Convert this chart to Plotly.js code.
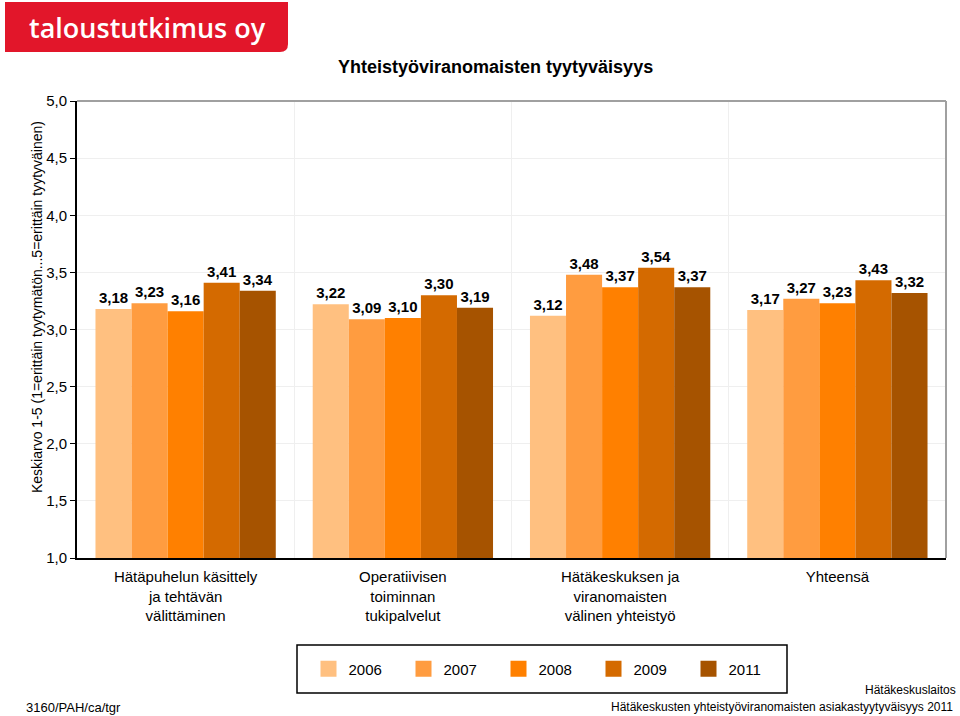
<!DOCTYPE html>
<html>
<head>
<meta charset="utf-8">
<script src="https://cdn.plot.ly/plotly-3.0.1.min.js"></script>
<style>
html,body{margin:0;padding:0;background:#fff;}
#chart{width:960px;height:716px;}
</style>
</head>
<body>
<div id="chart"></div>
<script>
const categories = [
  "Hätäpuhelun käsittely<br>ja tehtävän<br>välittäminen",
  "Operatiivisen<br>toiminnan<br>tukipalvelut",
  "Hätäkeskuksen ja<br>viranomaisten<br>välinen yhteistyö",
  "Yhteensä"
];
const years = ["2006", "2007", "2008", "2009", "2011"];
const v2006 = [3.18, 3.22, 3.12, 3.17];
const v2007 = [3.23, 3.09, 3.48, 3.27];
const v2008 = [3.16, 3.10, 3.37, 3.23];
const v2009 = [3.41, 3.30, 3.54, 3.43];
const v2011 = [3.34, 3.19, 3.37, 3.32];
const yTicks = [1.0, 1.5, 2.0, 2.5, 3.0, 3.5, 4.0, 4.5, 5.0];

const series = [v2006, v2007, v2008, v2009, v2011];
const colors = ["#FFC080", "#FF9C40", "#FF8000", "#D46A00", "#A65300"];
const font = "Liberation Sans, Arial, sans-serif";

const traces = series.map((vals, i) => ({
  type: "bar",
  name: years[i],
  x: categories,
  y: vals,
  base: 0,
  marker: {color: colors[i], line: {width: 0}},
  text: vals.map(v => v.toFixed(2).replace(".", ",")),
  textposition: "outside",
  textfont: {family: font, size: 15, color: "#000", weight: "bold"},
  cliponaxis: false,
  showlegend: false,
  hoverinfo: "none"
}));

// legend-only entries with larger square symbols
years.forEach((yr, i) => {
  traces.push({
    type: "scatter", mode: "markers", name: yr,
    x: [null], y: [null],
    marker: {symbol: "square", size: 16, color: colors[i]},
    showlegend: true, hoverinfo: "none"
  });
});

function px(x) { return (x - 77) / 869; }
function py(y) { return (558 - y) / 457; }

const layout = {
  width: 960, height: 716,
  margin: {l: 77, r: 14, t: 101, b: 158},
  paper_bgcolor: "#fff", plot_bgcolor: "#fff",
  font: {family: font, size: 15, color: "#000"},
  separators: ",.",
  barmode: "group",
  bargap: 0.17,
  bargroupgap: 0,
  showlegend: true,
  legend: {
    orientation: "h", x: px(546), xanchor: "center", y: py(669), yanchor: "middle",
    borderwidth: 0, bgcolor: "rgba(0,0,0,0)",
    entrywidth: 50, entrywidthmode: "pixels",
    font: {family: font, size: 15, color: "#000"},
    traceorder: "normal"
  },
  xaxis: {
    type: "category",
    tickson: "boundaries",
    showgrid: true, gridcolor: "#efefef", gridwidth: 1,
    showline: true, linecolor: "#000", linewidth: 2,
    ticks: "", ticklabelstandoff: 4,
    tickfont: {family: font, size: 15, color: "#000"},
    fixedrange: true
  },
  yaxis: {
    range: [1, 5],
    tickvals: yTicks,
    ticktext: yTicks.map(v => v.toFixed(1).replace(".", ",")),
    showgrid: true, gridcolor: "#efefef", gridwidth: 1,
    showline: true, linecolor: "#000", linewidth: 2,
    ticks: "outside", ticklen: 5, tickcolor: "#000",
    tickfont: {family: font, size: 15, color: "#000"},
    zeroline: false, fixedrange: true
  },
  shapes: [
    {type: "line", xref: "paper", yref: "paper", x0: 0, x1: 1, y0: 1, y1: 1, line: {color: "#a0a0a0", width: 2}},
    {type: "line", xref: "paper", yref: "paper", x0: 1, x1: 1, y0: 0, y1: 1, line: {color: "#a0a0a0", width: 2}},
    {type: "path", xref: "paper", yref: "paper", layer: "below",
     path: "M " + px(5) + "," + py(2) +
       " L " + px(288) + "," + py(2) +
       " L " + px(288) + "," + py(44) +
       " Q " + px(288) + "," + py(52) + " " + px(280) + "," + py(52) +
       " L " + px(5) + "," + py(52) + " Z",
     fillcolor: "#E2162A", line: {width: 0}},
    {type: "rect", xref: "paper", yref: "paper", layer: "below",
     x0: px(297), x1: px(787), y0: py(645), y1: py(693),
     line: {color: "#000", width: 1.5}, fillcolor: "rgba(0,0,0,0)"}
  ],
  annotations: [
    {text: "<b>Yhteistyöviranomaisten tyytyväisyys</b>", xref: "paper", yref: "paper",
     x: px(495), y: py(67), xanchor: "center", yanchor: "middle",
     showarrow: false, font: {family: font, size: 18, color: "#000"}},
    {text: "Keskiarvo 1-5 (1=erittäin tyytymätön...5=erittäin tyytyväinen)", xref: "paper", yref: "paper",
     x: px(37), y: py(307), xanchor: "center", yanchor: "middle", textangle: -90,
     showarrow: false, font: {family: font, size: 14, color: "#000"}},
    {text: "3160/PAH/ca/tgr", xref: "paper", yref: "paper",
     x: px(24), y: py(707), xanchor: "left", yanchor: "middle",
     showarrow: false, font: {family: font, size: 13, color: "#000"}},
    {text: "Hätäkeskuslaitos", xref: "paper", yref: "paper",
     x: px(958), y: py(690), xanchor: "right", yanchor: "middle",
     showarrow: false, font: {family: font, size: 12, color: "#000"}},
    {text: "Hätäkeskusten yhteistyöviranomaisten asiakastyytyväisyys 2011", xref: "paper", yref: "paper",
     x: px(955), y: py(707), xanchor: "right", yanchor: "middle",
     showarrow: false, font: {family: font, size: 12, color: "#000"}},
    {text: "taloustutkimus oy", xref: "paper", yref: "paper",
     x: px(147), y: py(27), xanchor: "center", yanchor: "middle",
     showarrow: false, font: {family: "Open Sans, sans-serif", size: 27, color: "#fff", weight: 600}}
  ]
};

Plotly.newPlot("chart", traces, layout, {displayModeBar: false, staticPlot: true});
</script>
</body>
</html>
